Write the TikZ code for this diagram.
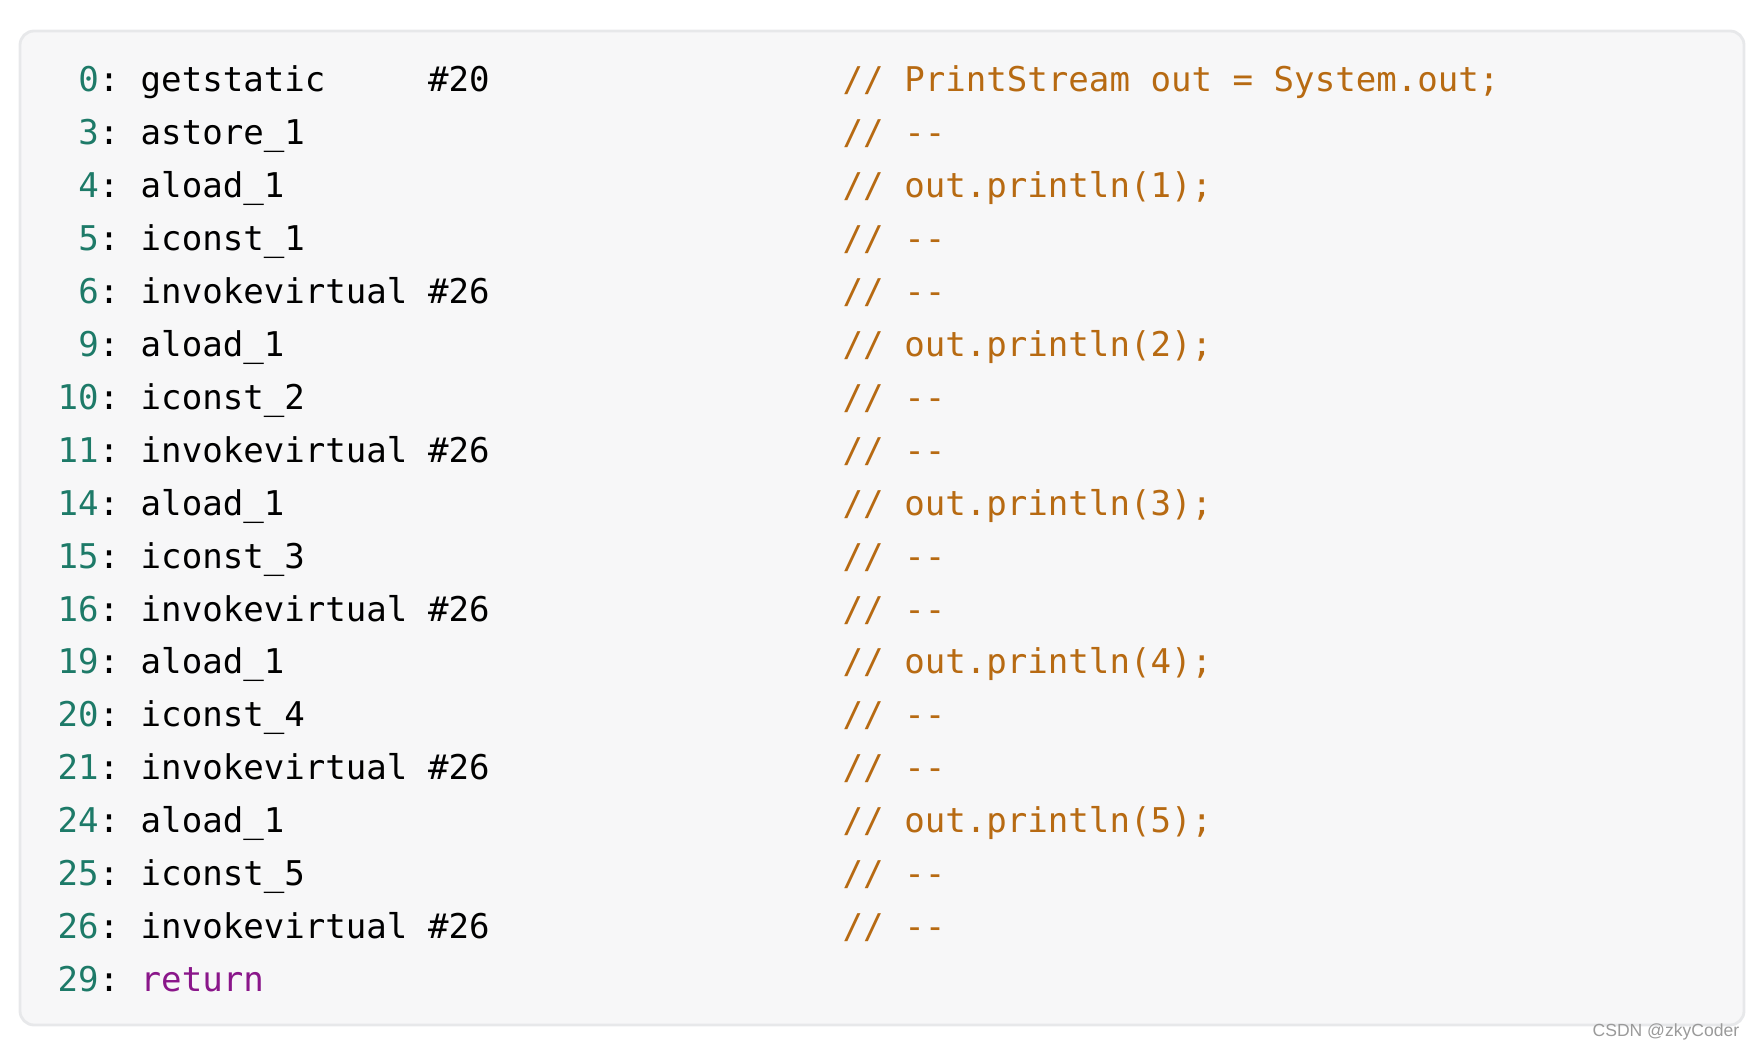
\documentclass[tikz,border=0pt]{standalone}
\usepackage{fontspec}
\setmonofont{DejaVu Sans Mono}
\newfontfamily\marksans{Liberation Sans}
\definecolor{codebg}{HTML}{F7F7F8}
\definecolor{codeline}{HTML}{E7E8EA}
\definecolor{numcol}{HTML}{1D7A68}
\definecolor{cmtcol}{HTML}{B76A12}
\definecolor{retcol}{HTML}{8A168A}
\definecolor{markcol}{HTML}{9A9A9A}

\begin{document}
\begin{tikzpicture}[
	code/.style={inner sep=0pt, font=\ttfamily\fontsize{9.7}{12}\selectfont},
	num/.style={code, anchor=base east, numcol},
	ins/.style={code, anchor=base west, black},
	cmt/.style={code, anchor=base west, cmtcol}]
			\useasboundingbox (0, 0) rectangle (17.56, -10.49);
			\draw[codeline, fill=codebg, line width=0.8pt, rounded corners=4pt] (0.20, -0.31) rectangle (17.44, -10.25);
			
			\foreach \n/\ins/\cmt [count=\r from 0] in {
				0/getstatic\ \ \ \ \ \#20/PrintStream out = System.out;,
				3/astore\_1/-{}-, 4/aload\_1/out.println(1);, 5/iconst\_1/-{}-, 6/invokevirtual \#26/-{}-,
				9/aload\_1/out.println(2);, 10/iconst\_2/-{}-, 11/invokevirtual \#26/-{}-,
				14/aload\_1/out.println(3);, 15/iconst\_3/-{}-, 16/invokevirtual \#26/-{}-,
				19/aload\_1/out.println(4);, 20/iconst\_4/-{}-, 21/invokevirtual \#26/-{}-,
				24/aload\_1/out.println(5);, 25/iconst\_5/-{}-, 26/invokevirtual \#26/-{}-} {
				\node[num] (num\r) at (1.20, -0.92-0.529*\r) {\n\textcolor{black}{:}};
				\node[ins] (ins\r) at (1.40, -0.92-0.529*\r) {\ins};
				\node[cmt] (cmt\r) at (8.42, -0.92-0.529*\r) {//\ \cmt};
			}
			\node[num] (num17) at (1.20, -0.92-0.529*17) {29\textcolor{black}{:}};
			\node[ins, retcol] (ins17) at (1.40, -0.92-0.529*17) {return};
			
			\node[anchor=base east, inner sep=0pt, markcol, font=\marksans\fontsize{5}{6}\selectfont] (mark) at (17.40, -10.36) {CSDN @zkyCoder};
			\end{tikzpicture}
\end{document}
